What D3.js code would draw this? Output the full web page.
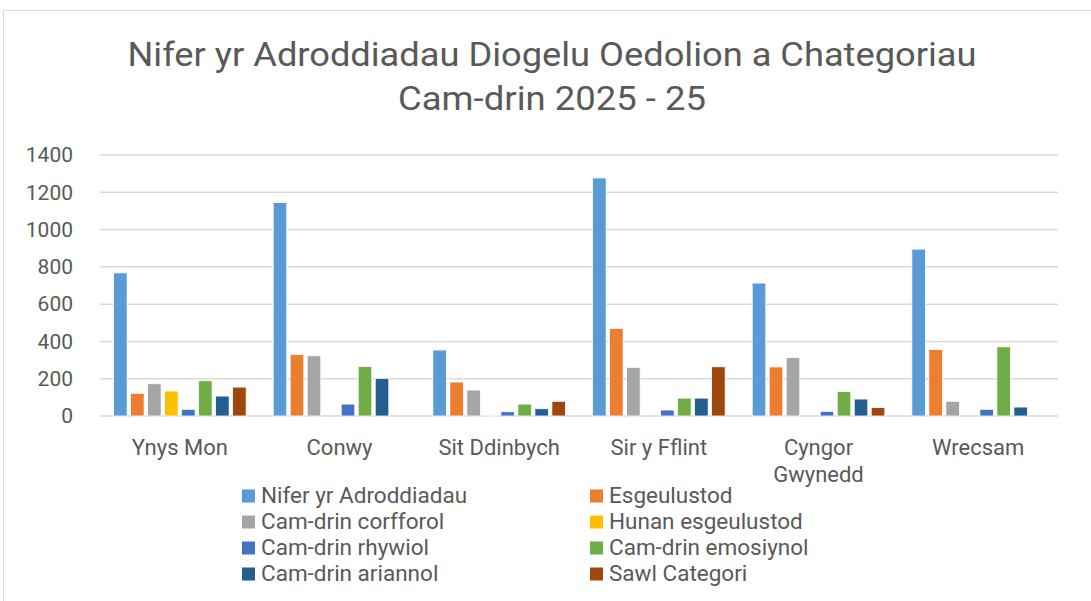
<!DOCTYPE html>
<html>
<head>
<meta charset="utf-8">
<script src="https://cdn.jsdelivr.net/npm/d3@7"></script>
<style>
  body { margin: 0; background: #fff; }
  text { font-family: Roboto, "Open Sans", sans-serif; fill: #595959; }
</style>
</head>
<body>
<div id="chart"></div>
<script>
// data
var categories = ['Ynys Mon', 'Conwy', 'Sit Ddinbych', 'Sir y Fflint', 'Cyngor Gwynedd', 'Wrecsam'];
var seriesNames = ['Nifer yr Adroddiadau', 'Esgeulustod', 'Cam-drin corfforol', 'Hunan esgeulustod',
  'Cam-drin rhywiol', 'Cam-drin emosiynol', 'Cam-drin ariannol', 'Sawl Categori'];
var colors = ['#5B9BD5', '#ED7D31', '#A5A5A5', '#FFC000', '#4472C4', '#70AD47', '#255E91', '#9E480E'];

var nifer      = [768, 1145, 354, 1277, 713, 895];
var esgeul     = [122, 330, 182, 470, 263, 357];
var corfforol  = [173, 323, 139, 261, 314, 79];
var hunan      = [134, 0, 2, 0, 0, 0];
var rhywiol    = [36, 64, 23, 32, 25, 36];
var emosiynol  = [189, 266, 64, 96, 132, 371];
var ariannol   = [107, 202, 39, 96, 91, 48];
var sawl       = [155, 0, 79, 264, 46, 0];
var yTicks = [0, 200, 400, 600, 800, 1000, 1200, 1400];

var allSeries = [nifer, esgeul, corfforol, hunan, rhywiol, emosiynol, ariannol, sawl];

var W = 1091, H = 601;
var svg = d3.select('#chart').append('svg')
  .attr('width', W)
  .attr('height', H);

// chart border
svg.append('rect')
  .attr('x', 3.5).attr('y', 10.5)
  .attr('width', W + 10).attr('height', H + 10)
  .attr('fill', 'none')
  .attr('stroke', '#d9d9d9');

// title
var title = svg.append('g');
title.append('text')
  .attr('x', 552).attr('y', 66)
  .attr('text-anchor', 'middle')
  .attr('textLength', 849).attr('lengthAdjust', 'spacingAndGlyphs')
  .style('font-size', '33px')
  .text('Nifer yr Adroddiadau Diogelu Oedolion a Chategoriau');
title.append('text')
  .attr('x', 552).attr('y', 110)
  .attr('text-anchor', 'middle')
  .attr('textLength', 308).attr('lengthAdjust', 'spacingAndGlyphs')
  .style('font-size', '33px')
  .text('Cam-drin 2025 - 25');

// scales
var plotL = 100, plotR = 1058, plotT = 155, plotB = 416;
var x0 = d3.scaleBand().domain(categories).range([plotL, plotR]).paddingInner(0.148).paddingOuter(0.074);
var x1 = d3.scaleBand().domain(d3.range(seriesNames.length)).range([0, x0.bandwidth()])
  .paddingInner(0.2).paddingOuter(0.1);
var y = d3.scaleLinear().domain([0, 1400]).range([plotB, plotT]);

// gridlines
svg.append('g').selectAll('line')
  .data(yTicks)
  .join('line')
  .attr('x1', plotL).attr('x2', plotR)
  .attr('y1', function(d) { return y(d); })
  .attr('y2', function(d) { return y(d); })
  .attr('stroke', '#d9d9d9')
  .attr('stroke-width', 1.5);

// y axis labels
var yAxis = svg.append('g')
  .attr('transform', 'translate(' + 73 + ',0)')
  .call(d3.axisLeft(y).tickValues(yTicks).tickFormat(d3.format('d')).tickSize(0).tickPadding(0));
yAxis.select('.domain').remove();
yAxis.selectAll('text')
  .style('font-size', '21px')
  .style('font-family', 'Roboto, sans-serif')
  .attr('fill', '#595959');

// bars
var groups = svg.append('g').selectAll('g')
  .data(categories)
  .join('g')
  .attr('transform', function(d) { return 'translate(' + x0(d) + ',0)'; });

groups.selectAll('rect')
  .data(function(d, ci) {
    return allSeries.map(function(s, si) { return { si: si, v: s[ci] }; })
      .filter(function(b) { return b.v > 0; });
  })
  .join('rect')
  .attr('x', function(d) { return x1(d.si); })
  .attr('width', x1.bandwidth())
  .attr('y', function(d) { return y(d.v); })
  .attr('height', function(d) { return y(0) - y(d.v); })
  .attr('fill', function(d) { return colors[d.si]; })
  .attr('stroke', '#fff')
  .attr('stroke-width', 0.8);

// category labels
svg.append('g').selectAll('text')
  .data(categories)
  .join('text')
  .attr('x', function(d) { return x0(d) + x0.bandwidth() / 2; })
  .attr('y', 455)
  .attr('text-anchor', 'middle')
  .style('font-size', '22px')
  .each(function(d) {
    var el = d3.select(this);
    if (d === 'Cyngor Gwynedd') {
      el.append('tspan').attr('x', el.attr('x')).text('Cyngor');
      el.append('tspan').attr('x', el.attr('x')).attr('dy', 27).text('Gwynedd');
    } else {
      el.text(d);
    }
  });

// legend
var legend = svg.append('g').selectAll('g')
  .data(seriesNames)
  .join('g')
  .attr('transform', function(d, i) {
    var col = i % 2, row = Math.floor(i / 2);
    return 'translate(' + (col ? 590 : 242) + ',' + (503 + row * 26) + ')';
  });
legend.append('rect')
  .attr('x', 0).attr('y', -13.5)
  .attr('width', 13).attr('height', 13)
  .attr('fill', function(d, i) { return colors[i]; });
legend.append('text')
  .attr('x', 19).attr('y', 0)
  .style('font-size', '22.5px')
  .text(function(d) { return d; });
</script>
</body>
</html>
